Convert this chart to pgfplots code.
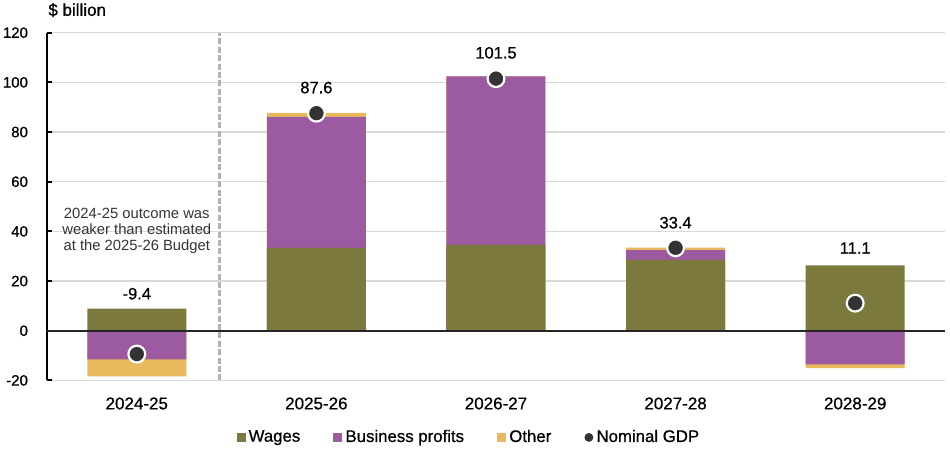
\documentclass[border=0pt]{standalone}
\usepackage{fontspec}
\setmainfont{Liberation Sans}[FakeBold=0.7]
\newfontfamily\regfont{Liberation Sans}
\usepackage{pgfplots}
\pgfplotsset{compat=1.18}
\definecolor{wagescol}{RGB}{123,121,59}
\definecolor{profcol}{RGB}{156,90,160}
\definecolor{othercol}{RGB}{233,185,94}
\definecolor{gdpcol}{RGB}{51,51,51}
\definecolor{gridcol}{RGB}{217,217,217}
\begin{document}
\begin{tikzpicture}
\path[use as bounding box] (-23.5pt,-34.8pt) rectangle (451.5pt,190.2pt);
\begin{axis}[
  at={(0pt,0pt)}, anchor=south west,
  scale only axis, width=449pt, height=173.85pt,
  xmin=-0.5, xmax=4.5, ymin=-20, ymax=120,
  axis y line*=left, axis x line*=bottom,
  x axis line style={draw=none},
  y axis line style={black, line width=1.3pt},
  xtick={0,1,2,3,4},
  xticklabels={2024-25,2025-26,2026-27,2027-28,2028-29},
  xtick style={draw=none},
  ytick={-20,0,20,40,60,80,100,120},
  yticklabels={-20,0,20,40,60,80,100,120},
  ytick style={black, line width=1pt},
  tick align=inside, major tick length=2.5pt,
  ymajorgrids, grid style={gridcol, line width=0.6pt},
  xticklabel style={font=\fontsize{8.5}{9}\selectfont, yshift=-5pt},
  yticklabel style={font=\fontsize{7.5}{8}\selectfont, xshift=-6pt},
  clip=false,
  legend style={at={(axis description cs:0.4705,0)}, anchor=center, yshift=-28.5pt,
    draw=none, fill=none, font=\fontsize{8.4}{9}\selectfont,
    /tikz/every even column/.append style={column sep=15pt},
    /tikz/every odd column/.append style={column sep=0pt},
    nodes={inner sep=1.6pt}},
  legend columns=4,
]
% cumulative stack tops / bottoms, painted from outermost to innermost
\addplot[ybar, bar width=49.5pt, bar shift=0pt, fill=othercol, draw=none, forget plot]
  coordinates {(0,-18.4) (1,87.7) (2,102.4) (3,33.5) (4,-15.1)};
\addplot[ybar, bar width=49.5pt, bar shift=0pt, fill=profcol, draw=none, forget plot]
  coordinates {(0,-11.5) (1,86.1) (2,102.4) (3,32.5) (4,-13.5)};
\addplot[ybar, bar width=49.5pt, bar shift=0pt, fill=wagescol, draw=none, forget plot]
  coordinates {(0,8.9) (1,33.4) (2,34.6) (3,28.5) (4,26.3)};
\draw[line width=1.2pt, black!85] (axis cs:-0.5,0) -- (axis cs:4.5,0);
\draw[line width=1.5pt, black!30, dash pattern=on 3pt off 1.2pt] (axis cs:0.463,-20) -- (axis cs:0.463,120);
\addplot[only marks, mark=*, mark size=4.2pt,
  mark options={fill=gdpcol, draw=white, line width=1.1pt}, forget plot]
  coordinates {(0,-9.4) (1,87.6) (2,101.5) (3,33.4) (4,11.1)};
\addplot[draw=none, mark=none, forget plot, nodes near coords, point meta=explicit symbolic,
  every node near coord/.append style={anchor=center, font=\fontsize{8.25}{9}\selectfont, inner sep=0pt}]
  coordinates {(0,14.9)[-9.4] (1,97.9)[87.6] (2,111.9)[101.5] (3,43.5)[33.4] (4,33.3)[11.1]};
\node[align=center, font=\regfont\fontsize{7.4}{8}\selectfont, text=black!80] at (axis cs:0,40.2)
  {2024-25 outcome was\\weaker than estimated\\at the 2025-26 Budget};
\addlegendimage{legend image code/.code={\fill[wagescol] (0pt,-2pt) rectangle (4pt,2pt);}}
\addlegendentry{Wages}
\addlegendimage{legend image code/.code={\fill[profcol] (0pt,-2pt) rectangle (4pt,2pt);}}
\addlegendentry{Business profits}
\addlegendimage{legend image code/.code={\fill[othercol] (0pt,-2pt) rectangle (4pt,2pt);}}
\addlegendentry{Other}
\addlegendimage{legend image code/.code={\fill[gdpcol] (2pt,0pt) circle (2pt);}}
\addlegendentry{Nominal GDP}
\end{axis}
\node[anchor=west, inner sep=0pt, font=\fontsize{8.5}{10}\selectfont] at (0.5pt,185.15pt) {\$ billion};
\end{tikzpicture}
\end{document}
